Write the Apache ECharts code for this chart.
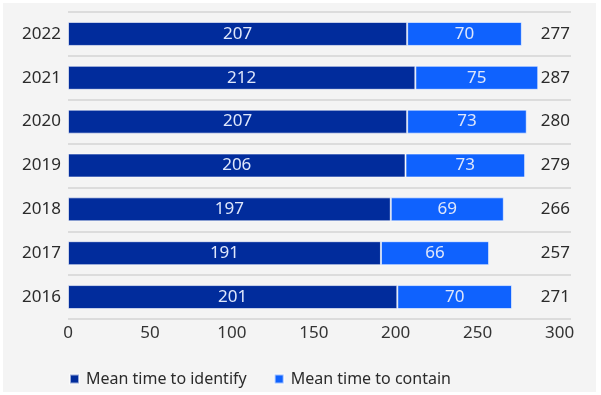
<!DOCTYPE html>
<html>
<head>
<meta charset="utf-8">
<script src="https://cdn.jsdelivr.net/npm/echarts@6/dist/echarts.min.js"></script>
<style>
  html, body { margin: 0; padding: 0; background: #ffffff; }
  #panel { position: absolute; left: 3px; top: 3px; width: 593px; height: 389px; background: #f4f4f4; }
  #chart { position: absolute; left: 0; top: 0; width: 601px; height: 395px; }
</style>
</head>
<body>
<div id="panel"></div>
<div id="chart"></div>
<script>
const years = ['2016', '2017', '2018', '2019', '2020', '2021', '2022'];
const identify = [201, 191, 197, 206, 207, 212, 207];
const contain = [70, 66, 69, 73, 73, 75, 70];
const totals = [271, 257, 266, 279, 280, 287, 277];
const xTicks = [0, 50, 100, 150, 200, 250, 300];

const font = '"Noto Sans", sans-serif';
const chart = echarts.init(document.getElementById('chart'), null, { renderer: 'canvas' });

const barLabel = {
  show: true,
  position: 'inside',
  color: '#dfe7fb',
  fontSize: 17,
  fontFamily: font
};

chart.setOption({
  backgroundColor: 'transparent',
  animation: false,
  grid: { left: 68, right: 30, top: 12, bottom: 76, containLabel: false },
  legend: {
    left: 64,
    top: 366,
    itemWidth: 9,
    itemHeight: 9,
    itemGap: 27,
    icon: 'rect',
    textStyle: { fontSize: 16, color: '#2b2b2b', fontFamily: font, padding: [0, 0, 0, 2] },
    data: ['Mean time to identify', 'Mean time to contain']
  },
  xAxis: {
    type: 'value',
    min: 0,
    max: 307,
    interval: 50,
    axisLine: { show: false },
    axisTick: { show: false },
    splitLine: { show: false },
    axisLabel: {
      showMaxLabel: false,
      margin: 6,
      fontSize: 17,
      color: '#333333',
      fontFamily: font,
      formatter: function (v) { return xTicks.indexOf(v) >= 0 ? String(v) : ''; }
    }
  },
  yAxis: [
    {
      type: 'category',
      data: years,
      axisLine: { show: false },
      axisTick: { show: false },
      splitLine: { show: true, lineStyle: { color: '#dcdcdc', width: 2 } },
      axisLabel: { margin: 7, fontSize: 17, color: '#2b2b2b', fontFamily: font }
    },
    {
      type: 'category',
      position: 'right',
      data: totals.map(String),
      axisLine: { show: false },
      axisTick: { show: false },
      splitLine: { show: false },
      axisLabel: { margin: -1, align: 'right', fontSize: 17, color: '#2b2b2b', fontFamily: font }
    }
  ],
  series: [
    {
      name: 'Mean time to identify',
      type: 'bar',
      stack: 'total',
      barWidth: 24,
      data: identify,
      itemStyle: { color: '#012c9c', borderColor: 'rgba(255,255,255,0.6)', borderWidth: 1 },
      label: barLabel
    },
    {
      name: 'Mean time to contain',
      type: 'bar',
      stack: 'total',
      barWidth: 24,
      data: contain,
      itemStyle: { color: '#0f62fe', borderColor: 'rgba(255,255,255,0.6)', borderWidth: 1 },
      label: barLabel
    }
  ]
});
</script>
</body>
</html>
